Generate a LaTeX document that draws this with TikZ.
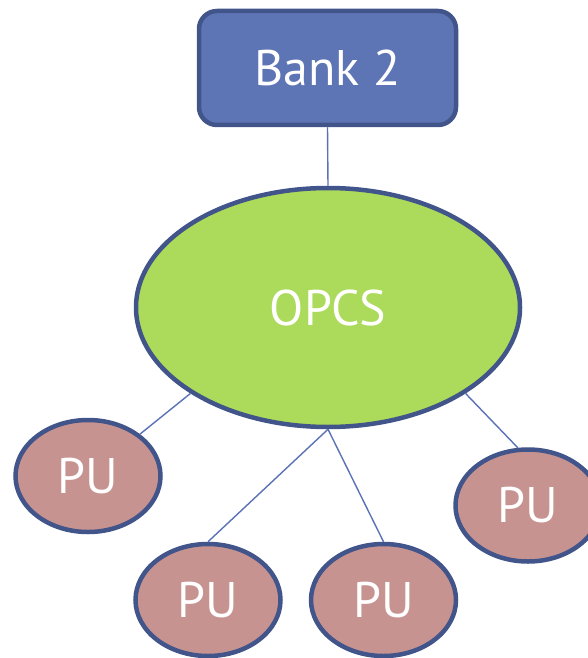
\documentclass[tikz,border=0pt]{standalone}
\usepackage{fontspec}
\setmainfont{PT Sans}
\usetikzlibrary{shapes.geometric}
\definecolor{navy}{HTML}{42558A}
\definecolor{bankfill}{HTML}{5E75B5}
\definecolor{opcsfill}{HTML}{ACDA5A}
\definecolor{pufill}{HTML}{C79391}
\definecolor{linkcol}{HTML}{5A72B5}
\tikzset{
  bigtext/.style={font=\fontsize{50}{52}\selectfont, text=white},
  bankbox/.style={draw=navy, line width=4.5pt, fill=bankfill, rounded corners=18pt,
    minimum width=257pt, minimum height=114pt, inner sep=0pt, bigtext},
  opcsell/.style={ellipse, draw=navy, line width=4.5pt, fill=opcsfill,
    minimum width=384pt, minimum height=239pt, inner sep=0pt, bigtext},
  puell/.style={ellipse, draw=navy, line width=4.5pt, fill=pufill,
    minimum width=145pt, minimum height=112pt, inner sep=0pt, bigtext},
  link/.style={draw=linkcol, line width=1.4pt}
}
\begin{document}
\begin{tikzpicture}[x=1pt,y=-1pt]
\useasboundingbox (0,0) rectangle (588,658);
\node[bankbox] (bank) at (327.5,68) {Bank 2};
\node[opcsell] (opcs) at (328,307.5) {OPCS};
\node[puell] (pu1) at (88,476) {PU};
\node[puell] (pu2) at (208,600) {PU};
\node[puell] (pu3) at (383.5,600) {PU};
\node[puell] (pu4) at (528,505.5) {PU};
\draw[link] (bank.south) -- (opcs.north);
\draw[link] (opcs.212) -- (pu1);
\draw[link] (opcs.south) -- (pu2.north);
\draw[link] (opcs.south) -- (pu3.north);
\draw[link] (opcs.328) -- (pu4.100);
\end{tikzpicture}
\end{document}
